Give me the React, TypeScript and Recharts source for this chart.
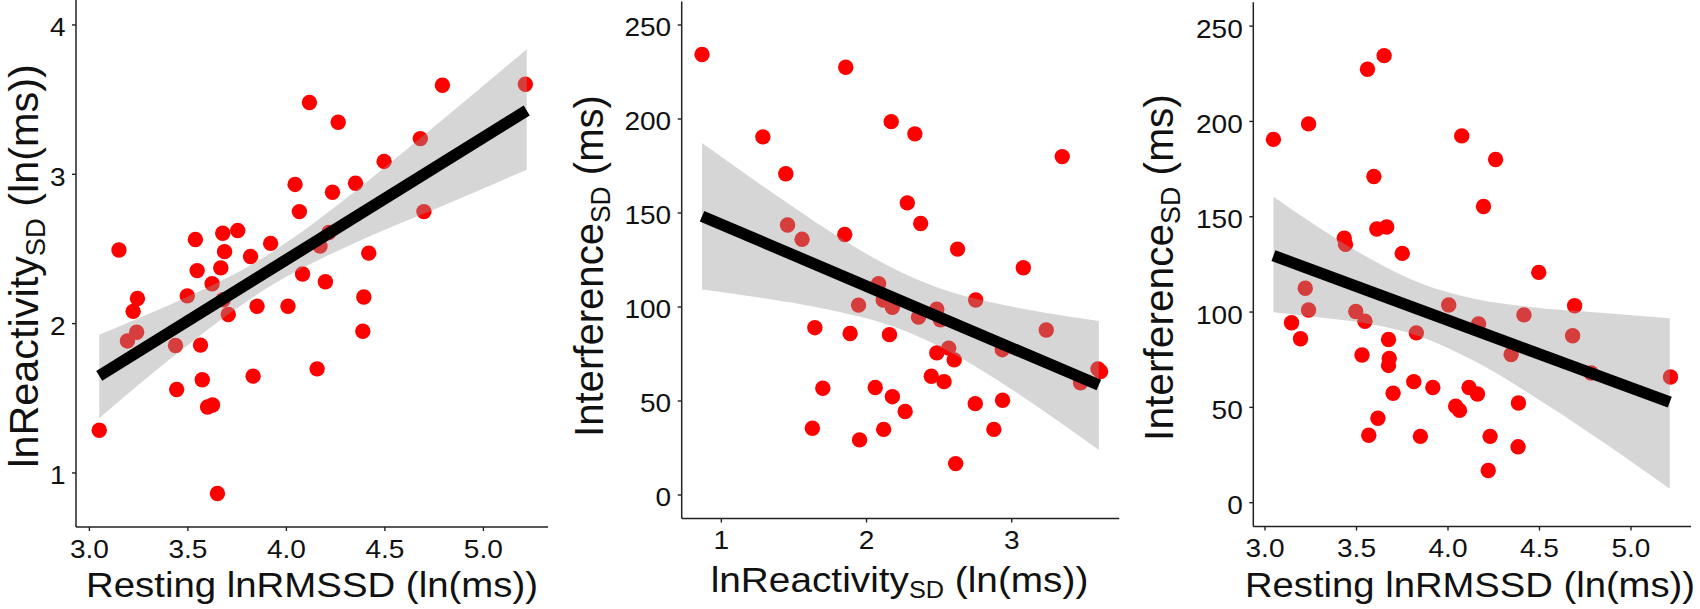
import React from 'react';
import { ComposedChart, Scatter, Area, Line, XAxis, YAxis } from 'recharts';

const FONT = '"Liberation Sans", Arial, sans-serif';
const INK = '#111111';
const AXIS = '#222222';
const DOT = '#FF0000';

// panel A: resting lnRMSSD vs lnReactivity SD
const restingA = [3.05, 3.15, 3.244, 3.222, 3.193, 3.24, 3.437, 3.443, 3.497, 3.538, 3.547, 3.564, 3.573, 3.6, 3.625, 3.623, 3.667, 3.677, 3.686, 3.679, 3.705, 3.753, 3.818, 3.851, 3.831, 3.92, 4.008, 3.65, 4.044, 4.066, 4.082, 4.117, 4.156, 4.171, 4.198, 4.216, 4.234, 4.263, 4.351, 4.393, 4.388, 4.418, 4.496, 4.68, 4.698, 4.792, 5.213];
const reactivityA = [1.286, 2.493, 2.168, 2.082, 1.884, 1.942, 1.853, 1.559, 2.186, 2.563, 2.355, 1.856, 1.624, 1.442, 1.455, 2.267, 2.373, 2.605, 2.482, 2.16, 2.061, 2.623, 2.449, 2.116, 1.648, 2.537, 2.116, 0.862, 2.932, 2.75, 2.332, 3.481, 1.697, 2.519, 2.28, 2.61, 2.88, 3.348, 2.94, 2.178, 1.949, 2.472, 3.086, 3.239, 2.75, 3.596, 3.603];
const fitAX = [3.05, 5.22];
const fitAY = [1.65, 3.427];
const bandAX = [3.05, 3.3, 3.5, 3.7, 3.9, 4.1, 4.3, 4.5, 4.8, 5.22];
const bandALo = [1.367, 1.646, 1.857, 2.057, 2.236, 2.385, 2.512, 2.629, 2.793, 3.031];
const bandAHi = [1.926, 2.064, 2.181, 2.307, 2.456, 2.635, 2.836, 3.047, 3.373, 3.837];

// panel B: lnReactivity SD vs Interference SD
const reactivityB = [0.867, 1.286, 1.444, 1.456, 1.556, 1.644, 1.699, 1.627, 1.857, 1.85, 1.887, 1.945, 1.952, 2.06, 2.083, 2.115, 2.118, 2.17, 2.178, 2.158, 2.178, 2.266, 2.281, 2.333, 2.358, 2.373, 2.446, 2.484, 2.509, 2.484, 2.534, 2.566, 2.604, 2.627, 2.614, 2.752, 2.749, 2.877, 2.935, 2.937, 3.08, 3.238, 3.348, 3.474, 3.594, 3.612];
const interferenceB = [234.3, 190.5, 170.9, 143.6, 136.0, 89.0, 56.8, 35.5, 227.5, 138.6, 85.9, 101.0, 29.3, 57.2, 112.4, 103.7, 34.9, 198.6, 99.8, 85.3, 52.3, 44.4, 155.4, 192.1, 94.6, 144.4, 63.2, 98.8, 93.2, 75.6, 60.3, 78.1, 71.9, 130.8, 16.7, 103.7, 48.6, 34.9, 77.3, 50.4, 120.9, 87.8, 180.0, 59.7, 67.1, 65.7];
const fitBX = [0.867, 3.6];
const fitBY = [148.3, 58.5];
const bandBX = [0.867, 1.2, 1.5, 1.8, 2.1, 2.34, 2.6, 2.9, 3.2, 3.6];
const bandBLo = [109.3, 105.7, 102.1, 97.6, 91.7, 84.9, 75.0, 61.2, 45.8, 24.0];
const bandBHi = [187.2, 168.9, 152.9, 137.6, 123.9, 114.9, 107.6, 101.8, 97.4, 92.6];

// panel C: resting lnRMSSD vs Interference SD
const restingC = [3.046, 3.145, 3.194, 3.22, 3.238, 3.238, 3.433, 3.44, 3.496, 3.546, 3.53, 3.56, 3.567, 3.595, 3.611, 3.665, 3.617, 3.651, 3.675, 3.679, 3.675, 3.7, 3.75, 3.813, 3.827, 3.849, 3.917, 4.004, 4.042, 4.063, 4.075, 4.115, 4.161, 4.167, 4.194, 4.22, 4.23, 4.26, 4.345, 4.385, 4.383, 4.415, 4.496, 4.681, 4.692, 4.782, 5.216];
const interferenceC = [190.6, 94.4, 86.0, 112.5, 101.1, 198.7, 138.7, 135.5, 100.3, 95.2, 77.5, 227.4, 35.4, 171.1, 143.6, 144.6, 44.3, 234.5, 85.6, 75.7, 72.0, 57.4, 130.8, 63.5, 89.1, 34.8, 60.4, 103.7, 50.6, 48.4, 192.4, 60.4, 57.0, 93.8, 155.4, 16.9, 34.8, 180.0, 77.7, 52.3, 29.3, 98.5, 120.8, 87.6, 103.3, 68.0, 65.9];
const fitCX = [3.046, 5.212];
const fitCY = [129.6, 52.7];
const bandCX = [3.046, 3.3, 3.55, 3.85, 4.15, 4.45, 4.8, 5.212];
const bandCLo = [99.9, 97.2, 94.1, 87.1, 74.0, 56.9, 34.9, 7.3];
const bandCHi = [160.5, 144.0, 129.3, 115.1, 106.8, 102.7, 99.9, 96.8];

const rmssdTicks = [3.0, 3.5, 4.0, 4.5, 5.0];
const reactivityTicksX = [1, 2, 3];
const reactivityTicksY = [1, 2, 3, 4];
const interferenceTicks = [0, 50, 100, 150, 200, 250];

const toPoints = (xs: number[], ys: number[]) => xs.map((x, i) => ({ x, y: ys[i] }));

const toBand = (xs: number[], lo: number[], hi: number[], fx: number[], fy: number[]) =>
  xs.map((x, i) => {
    const j = fx.indexOf(x);
    return { x, band: [lo[i], hi[i]], fit: j >= 0 ? fy[j] : undefined };
  });

type TitleProps = {
  cx: number;
  cy: number;
  stretch: number;
  size: number;
  subSize: number;
  shift: number;
  main: string;
  sub?: string;
  rest?: string;
  vertical?: boolean;
};

// axis title, centred on (cx, cy), stretched along its reading direction
const AxisTitle = ({ cx, cy, stretch, size, subSize, shift, main, sub, rest, vertical }: TitleProps) => (
  <text
    x={0}
    y={0}
    transform={`translate(${cx},${cy})${vertical ? ' rotate(-90)' : ''} scale(${stretch},1)`}
    textAnchor="middle"
    fontFamily={FONT}
    fontSize={size}
    fill={INK}
  >
    {main}
    {sub ? (
      <tspan fontSize={subSize} dy={shift}>
        {sub}
      </tspan>
    ) : null}
    {rest ? <tspan dy={sub ? -shift : 0}>{rest}</tspan> : null}
  </text>
);

const XTick = (props: any) => {
  const { x, y, payload, fmt } = props;
  return (
    <text
      x={x}
      y={y}
      dy="0.72em"
      textAnchor="middle"
      fontFamily={FONT}
      fontSize={25.5}
      fill={INK}
      transform={`translate(${x},0) scale(1.1,1) translate(${-x},0)`}
    >
      {fmt(payload.value)}
    </text>
  );
};

const YTick = (props: any) => {
  const { x, y, payload } = props;
  return (
    <text
      x={x}
      y={y}
      dy="0.45em"
      textAnchor="end"
      fontFamily={FONT}
      fontSize={25.5}
      fill={INK}
      transform={`translate(${x},0) scale(1.1,1) translate(${-x},0)`}
    >
      {payload.value}
    </text>
  );
};

const Dot = (props: any) => <circle cx={props.cx} cy={props.cy} r={7.7} fill={DOT} />;

type PanelProps = {
  left: number;
  width: number;
  margin: { top: number; right: number; left: number; bottom: number };
  yWidth: number;
  xHeight: number;
  xDomain: [number, number];
  yDomain: [number, number];
  xTicks: number[];
  yTicks: number[];
  xFmt: (v: number) => string;
  points: { x: number; y: number }[];
  band: { x: number; band: number[]; fit?: number }[];
  xTitle: TitleProps;
  yTitle: TitleProps;
};

const Panel = (p: PanelProps) => (
  <div style={{ position: 'absolute', left: p.left, top: 0, width: p.width, height: 609 }}>
    <ComposedChart width={p.width} height={609} data={p.band} margin={p.margin}>
      <XAxis
        type="number"
        dataKey="x"
        domain={p.xDomain}
        ticks={p.xTicks}
        allowDataOverflow
        height={p.xHeight}
        tickSize={4}
        tickMargin={8.5}
        axisLine={{ stroke: AXIS, strokeWidth: 1.5 }}
        tickLine={{ stroke: AXIS, strokeWidth: 1.4 }}
        tick={(t: any) => <XTick {...t} fmt={p.xFmt} />}
        label={{ content: () => <AxisTitle {...p.xTitle} /> }}
      />
      <YAxis
        type="number"
        domain={p.yDomain}
        ticks={p.yTicks}
        allowDataOverflow
        width={p.yWidth}
        tickSize={4}
        tickMargin={6.5}
        axisLine={{ stroke: AXIS, strokeWidth: 1.5 }}
        tickLine={{ stroke: AXIS, strokeWidth: 1.4 }}
        tick={(t: any) => <YTick {...t} />}
        label={{ content: () => <AxisTitle {...p.yTitle} vertical /> }}
      />
      <Scatter data={p.points} dataKey="y" shape={Dot} isAnimationActive={false} zIndex={50} />
      <Area
        dataKey="band"
        type="monotone"
        stroke="none"
        fill="#999999"
        fillOpacity={0.4}
        isAnimationActive={false}
        activeDot={false}
        zIndex={100}
      />
      <Line
        dataKey="fit"
        type="linear"
        stroke="#000000"
        strokeWidth={11.5}
        dot={false}
        activeDot={false}
        connectNulls
        isAnimationActive={false}
        zIndex={400}
      />
    </ComposedChart>
  </div>
);

const one = (v: number) => v.toFixed(1);
const whole = (v: number) => String(v);

export default function App() {
  return (
    <div style={{ position: 'absolute', left: 0, top: 0, width: 1700, height: 609, background: '#ffffff' }}>
      <Panel
        left={0}
        width={560}
        margin={{ top: 0, right: 12, left: 0, bottom: 0 }}
        yWidth={76}
        xHeight={82}
        xDomain={[2.932, 5.328]}
        yDomain={[0.638, 4.167]}
        xTicks={rmssdTicks}
        yTicks={reactivityTicksY}
        xFmt={one}
        points={toPoints(restingA, reactivityA)}
        band={toBand(bandAX, bandALo, bandAHi, fitAX, fitAY)}
        xTitle={{ cx: 312, cy: 596.7, stretch: 1.097, size: 35, subSize: 24, shift: 6, main: 'Resting lnRMSSD (ln(ms))' }}
        yTitle={{ cx: 37.5, cy: 266, stretch: 1.01, size: 41, subSize: 27, shift: 7, main: 'lnReactivity', sub: 'SD', rest: ' (ln(ms))' }}
      />
      <Panel
        left={560}
        width={570}
        margin={{ top: 1.5, right: 10.7, left: 0, bottom: 0 }}
        yWidth={121.7}
        xHeight={90.5}
        xDomain={[0.727, 3.741]}
        yDomain={[-12.5, 262.5]}
        xTicks={reactivityTicksX}
        yTicks={interferenceTicks}
        xFmt={whole}
        points={toPoints(reactivityB, interferenceB)}
        band={toBand(bandBX, bandBLo, bandBHi, fitBX, fitBY)}
        xTitle={{ cx: 339.5, cy: 592, stretch: 1.077, size: 36, subSize: 23.5, shift: 6, main: 'lnReactivity', sub: 'SD', rest: ' (ln(ms))' }}
        yTitle={{ cx: 43.3, cy: 266, stretch: 0.978, size: 41, subSize: 27, shift: 7, main: 'Interference', sub: 'SD', rest: ' (ms)' }}
      />
      <Panel
        left={1130}
        width={570}
        margin={{ top: 2.3, right: 9, left: 0, bottom: 0 }}
        yWidth={123.3}
        xHeight={82.5}
        xDomain={[2.936, 5.328]}
        yDomain={[-12.5, 262.5]}
        xTicks={rmssdTicks}
        yTicks={interferenceTicks}
        xFmt={one}
        points={toPoints(restingC, interferenceC)}
        band={toBand(bandCX, bandCLo, bandCHi, fitCX, fitCY)}
        xTitle={{ cx: 340, cy: 597, stretch: 1.092, size: 35, subSize: 24, shift: 6, main: 'Resting lnRMSSD (ln(ms))' }}
        yTitle={{ cx: 43.3, cy: 267.5, stretch: 0.992, size: 41, subSize: 27, shift: 7, main: 'Interference', sub: 'SD', rest: ' (ms)' }}
      />
    </div>
  );
}
